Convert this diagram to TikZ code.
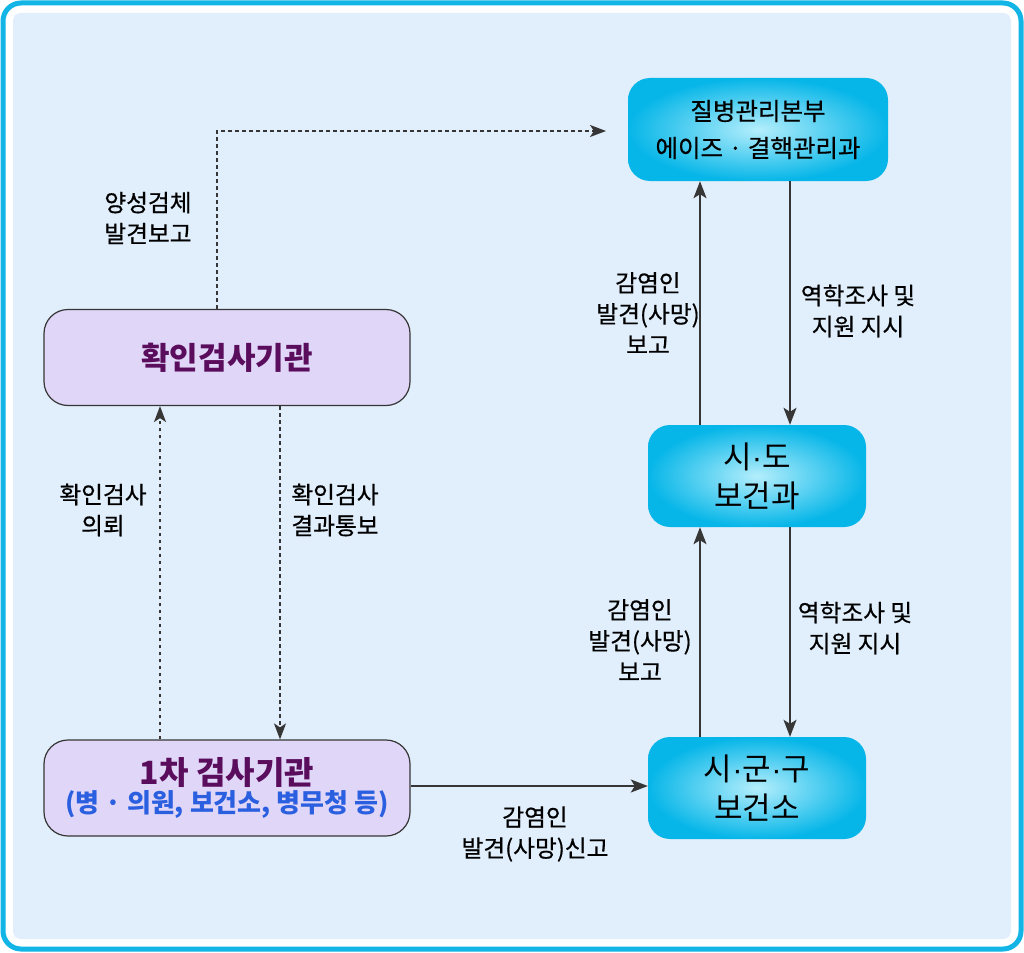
\documentclass[tikz,border=0pt]{standalone}
\usepackage{fontspec}
\setmainfont{Noto Sans CJK KR}[UprightFeatures={FakeBold=0.6}]
\newfontfamily\plainkr{Noto Sans CJK KR}
\newfontfamily\dotfont{Liberation Sans}
\usetikzlibrary{arrows.meta}
\definecolor{framecyan}{HTML}{12B5E6}
\definecolor{bgblue}{HTML}{E1EEFB}
\definecolor{boxcyanout}{HTML}{06B6E8}
\definecolor{boxcyanin}{HTML}{B4EEFC}
\definecolor{lavender}{HTML}{E0D6F8}
\definecolor{purpletext}{HTML}{5A0D5C}
\definecolor{bluetext}{HTML}{2A5FE0}
\definecolor{linegray}{HTML}{363636}
\newcommand{\md}{{\dotfont ·}}
\tikzset{
  cyanbox/.style={rounded corners=22pt, inner color=boxcyanin, outer color=boxcyanout, minimum width=218pt, minimum height=102pt, align=center, font=\plainkr\fontsize{31}{39}\selectfont, text=black},
  topbox/.style={cyanbox, minimum width=260pt, minimum height=103pt, font=\fontsize{24.5}{37}\selectfont},
  lavbox/.style={draw=linegray, line width=1.2pt, fill=lavender, rounded corners=24pt, minimum width=366pt, minimum height=96pt, align=center},
  lbl/.style={align=center, font=\fontsize{23.7}{31}\selectfont, text=black},
  solidarrow/.style={draw=linegray, line width=1.8pt, -{Stealth[length=17pt,width=13pt,inset=4pt]}},
  dasharrow/.style={draw=linegray, line width=1.7pt, dash pattern=on 3.5pt off 3.5pt, -{Stealth[length=16pt,width=12pt,inset=4pt]}}
}
\begin{document}
\begin{tikzpicture}[x=1pt,y=-1pt]
\useasboundingbox (0,0) rectangle (1024,952);
\fill[white] (0,0) rectangle (1024,952);
\draw[framecyan, line width=5pt, rounded corners=18pt] (3,3) rectangle (1021,949);
\fill[bgblue, rounded corners=8pt] (13,13) rectangle (1011,939);

\node[topbox] (kcdc) at (758,129.5) {질병관리본부\\에이즈 · 결핵관리과};
\node[cyanbox] (sido) at (757,476) {시\md 도\\보건과};
\node[cyanbox] (sigungu) at (757,788) {시\md 군\md 구\\보건소};

\node[lavbox, font=\fontsize{31}{38}\bfseries\selectfont, text=purpletext] (confirm) at (227,357.5) {확인검사기관};
\node[lavbox, text=purpletext] (first) at (227,788) {{\fontsize{32}{36}\bfseries\selectfont 1차 검사기관}\\[2pt]{\fontsize{26}{30}\bfseries\selectfont\color{bluetext}(병 · 의원, 보건소, 병무청 등)}};

\coordinate (turn) at (217,131);
\coordinate (toparrowend) at (606,131);
\draw[dasharrow] (confirm.north -| turn) -- (turn) -- (toparrowend);
\node[lbl] (l1) at (148,218) {양성검체\\발견보고};

\draw[dasharrow] (first.north -| 160,0) -- (confirm.south -| 160,0);
\draw[dasharrow] (confirm.south -| 280,0) -- (first.north -| 280,0);
\node[lbl] (l2) at (103,510) {확인검사\\의뢰};
\node[lbl] (l3) at (335,510) {확인검사\\결과통보};

\draw[solidarrow] (first.east |- 0,786) -- (sigungu.west |- 0,786);
\node[lbl] (l4) at (535,834) {감염인\\발견(사망)신고};

\draw[solidarrow] (sido.north -| 700,0) -- (kcdc.south -| 700,0);
\draw[solidarrow] (kcdc.south -| 790,0) -- (sido.north -| 790,0);
\node[lbl] (l5) at (648,313) {감염인\\발견(사망)\\보고};
\node[lbl] (l6) at (858,311) {역학조사 및\\지원 지시};

\draw[solidarrow] (sigungu.north -| 700,0) -- (sido.south -| 700,0);
\draw[solidarrow] (sido.south -| 790,0) -- (sigungu.north -| 790,0);
\node[lbl] (l7) at (640,640) {감염인\\발견(사망)\\보고};
\node[lbl] (l8) at (855,628) {역학조사 및\\지원 지시};
\end{tikzpicture}
\end{document}
